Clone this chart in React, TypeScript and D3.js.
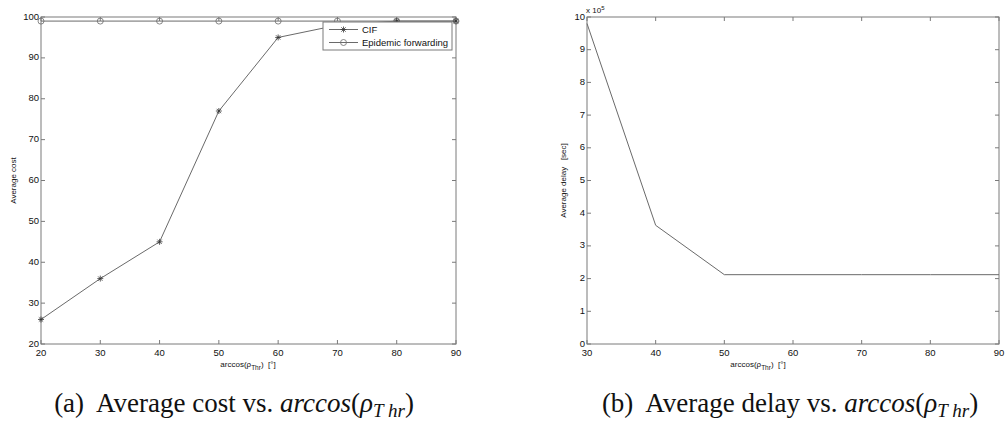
import React from "react";
import * as d3 from "d3";

// Panel (a): average cost
const costAngles = [20, 30, 40, 50, 60, 70, 80, 90];
const cifCost = [26, 36, 45, 77, 95, 98, 99, 99];
const epidemicCost = [99, 99, 99, 99, 99, 99, 99, 99];
const costTicksX = [20, 30, 40, 50, 60, 70, 80, 90];
const costTicksY = [20, 30, 40, 50, 60, 70, 80, 90, 100];
const legendNames = ["CIF", "Epidemic forwarding"];

// Panel (b): average delay (units of 10^5 sec)
const delayAngles = [30, 40, 50, 60, 70, 80, 90];
const delayValues = [9.8, 3.63, 2.12, 2.12, 2.12, 2.12, 2.12];
const delayTicksX = [30, 40, 50, 60, 70, 80, 90];
const delayTicksY = [0, 1, 2, 3, 4, 5, 6, 7, 8, 9, 10];

const AXIS = "#7a7a7a";
const LINE = "#6a6a6a";
const TEXT = "#111";
const SANS = "'Liberation Sans', Arial, Helvetica, sans-serif";
const SERIF = "'Liberation Serif', 'Times New Roman', serif";

type FrameProps = {
  x: d3.ScaleLinear<number, number>;
  y: d3.ScaleLinear<number, number>;
  xt: number[];
  yt: number[];
};

function Frame({ x, y, xt, yt }: FrameProps) {
  const [x0, x1] = x.range();
  const [y0, y1] = y.range();
  const tl = 4;
  return (
    <g>
      <rect x={x0} y={y1} width={x1 - x0} height={y0 - y1} fill="none" stroke={AXIS} strokeWidth={1} />
      {xt.map((t) => (
        <g key={"x" + t}>
          <line x1={x(t)} x2={x(t)} y1={y0} y2={y0 - tl} stroke={AXIS} />
          <line x1={x(t)} x2={x(t)} y1={y1} y2={y1 + tl} stroke={AXIS} />
          <text x={x(t)} y={y0 + 11.5} textAnchor="middle" fontSize={9.5} fill={TEXT} fontFamily={SANS}>
            {t}
          </text>
        </g>
      ))}
      {yt.map((t) => (
        <g key={"y" + t}>
          <line x1={x0} x2={x0 + tl} y1={y(t)} y2={y(t)} stroke={AXIS} />
          <line x1={x1} x2={x1 - tl} y1={y(t)} y2={y(t)} stroke={AXIS} />
          <text x={x0 - 2} y={y(t) + 2.5} textAnchor="end" fontSize={9.5} fill={TEXT} fontFamily={SANS}>
            {t}
          </text>
        </g>
      ))}
    </g>
  );
}

function Star({ cx, cy }: { cx: number; cy: number }) {
  const r = 3;
  const d = r * 0.72;
  return (
    <g stroke="#333" strokeWidth={0.8}>
      <line x1={cx - r} x2={cx + r} y1={cy} y2={cy} />
      <line x1={cx} x2={cx} y1={cy - r} y2={cy + r} />
      <line x1={cx - d} x2={cx + d} y1={cy - d} y2={cy + d} />
      <line x1={cx - d} x2={cx + d} y1={cy + d} y2={cy - d} />
    </g>
  );
}

function Ring({ cx, cy }: { cx: number; cy: number }) {
  return <circle cx={cx} cy={cy} r={3} fill="none" stroke={LINE} strokeWidth={0.8} />;
}

function XLabel({ x, y }: { x: number; y: number }) {
  return (
    <text x={x} y={y} textAnchor="middle" fontSize={8} fill={TEXT} fontFamily={SANS} xmlSpace="preserve">
      arccos(ρ
      <tspan fontSize={6.5} dy={2.5}>Thr</tspan>
      <tspan dy={-2.5}>{")  [°]"}</tspan>
    </text>
  );
}

function Caption({ x, y, tag, label }: { x: number; y: number; tag: string; label: string }) {
  return (
    <text x={x} y={y} textAnchor="middle" fontSize={27} fill={TEXT} fontFamily={SERIF} xmlSpace="preserve">
      {`(${tag})  ${label} vs. `}
      <tspan fontStyle="italic">arccos</tspan>
      (<tspan fontStyle="italic">ρ</tspan>
      <tspan fontStyle="italic" fontSize={19} dy={5}>{"T hr"}</tspan>
      <tspan dy={-5}>)</tspan>
    </text>
  );
}

export default function App() {
  const W = 1007;
  const H = 426;

  const xa = d3.scaleLinear().domain([20, 90]).range([41, 456]);
  const ya = d3.scaleLinear().domain([20, 100]).range([344, 17]);
  const xb = d3.scaleLinear().domain([30, 90]).range([587, 999]);
  const yb = d3.scaleLinear().domain([0, 10]).range([344, 17]);

  const lineA = d3
    .line<number>()
    .x((_, i) => xa(costAngles[i]))
    .y((v) => ya(v));
  const lineB = d3
    .line<number>()
    .x((_, i) => xb(delayAngles[i]))
    .y((v) => yb(v));

  // legend box
  const lx = 323;
  const ly = 22;
  const lw = 129;
  const lh = 28;

  return (
    <svg
      width={W}
      height={H}
      style={{ position: "absolute", left: 0, top: 0, background: "#fff" }}
    >
      {/* panel (a) */}
      <Frame x={xa} y={ya} xt={costTicksX} yt={costTicksY} />
      <path d={lineA(epidemicCost) || ""} fill="none" stroke={LINE} strokeWidth={1} />
      {epidemicCost.map((v, i) => (
        <Ring key={"e" + i} cx={xa(costAngles[i])} cy={ya(v)} />
      ))}
      <path d={lineA(cifCost) || ""} fill="none" stroke={LINE} strokeWidth={1} />
      {cifCost.map((v, i) => (
        <Star key={"c" + i} cx={xa(costAngles[i])} cy={ya(v)} />
      ))}
      <g>
        <rect x={lx} y={ly} width={lw} height={lh} fill="#fff" stroke={AXIS} strokeWidth={1} />
        {legendNames.map((name, i) => {
          const yy = ly + 7.5 + i * 13;
          return (
            <g key={name}>
              <line x1={lx + 6} x2={lx + 35} y1={yy} y2={yy} stroke={LINE} />
              {i === 0 ? <Star cx={lx + 20.5} cy={yy} /> : <Ring cx={lx + 20.5} cy={yy} />}
              <text x={lx + 39} y={yy + 3.4} fontSize={9.5} fill={TEXT} fontFamily={SANS}>
                {name}
              </text>
            </g>
          );
        })}
      </g>
      <text
        transform={`translate(16,${(17 + 344) / 2}) rotate(-90)`}
        textAnchor="middle"
        fontSize={8}
        fill={TEXT}
        fontFamily={SANS}
      >
        Average cost
      </text>
      <XLabel x={248} y={367} />
      <Caption x={234} y={412} tag="a" label="Average cost" />

      {/* panel (b) */}
      <Frame x={xb} y={yb} xt={delayTicksX} yt={delayTicksY} />
      <path d={lineB(delayValues) || ""} fill="none" stroke={LINE} strokeWidth={1} />
      <text x={586} y={13} fontSize={8} fill={TEXT} fontFamily={SANS}>
        x 10
        <tspan fontSize={6} dy={-3.5}>5</tspan>
      </text>
      <text
        transform={`translate(566,${(17 + 344) / 2}) rotate(-90)`}
        textAnchor="middle"
        fontSize={8}
        fill={TEXT}
        fontFamily={SANS}
        xmlSpace="preserve"
      >
        {"Average delay   [sec]"}
      </text>
      <XLabel x={758} y={367} />
      <Caption x={790} y={412} tag="b" label="Average delay" />
    </svg>
  );
}
